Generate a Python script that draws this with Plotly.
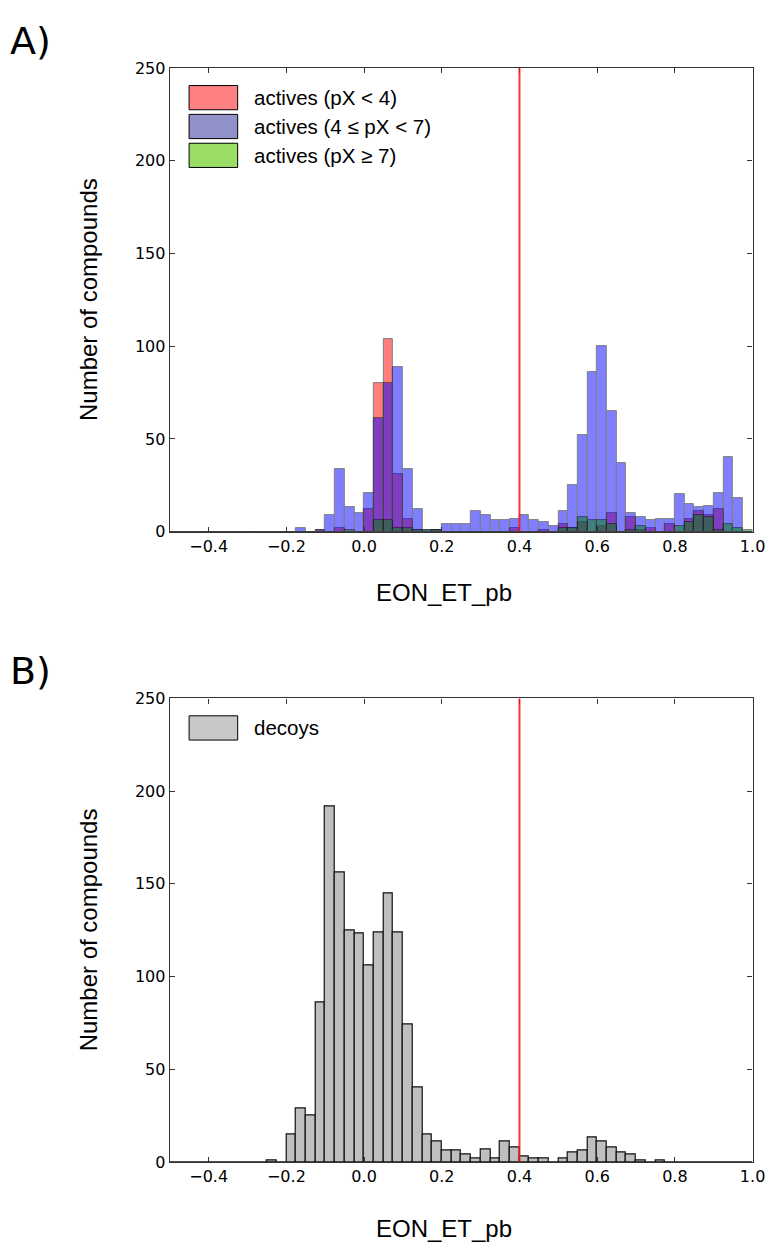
import plotly.graph_objects as go

# histogram bins: 60 bins of width 0.025 from -0.5 to 1.0
bin_width = 0.025
bin_centers = [round(-0.5 + bin_width * (i + 0.5), 4) for i in range(60)]

# counts per bin
actives_low = [0, 0, 0, 0, 0, 0, 0, 0, 0, 0, 0, 0, 0, 0, 0, 1, 0, 2, 0, 0,
               12, 80, 104, 31, 7, 1, 0, 1, 0, 0, 0, 0, 0, 0, 0, 2, 0, 0, 1, 0,
               4, 2, 5, 0, 3, 10, 0, 8, 1, 2, 0, 4, 0, 7, 11, 9, 12, 0, 0, 0]
actives_mid = [0, 0, 0, 0, 0, 0, 0, 0, 0, 0, 0, 0, 0, 2, 0, 1, 9, 34, 13, 10,
               21, 61, 80, 89, 34, 12, 1, 1, 4, 4, 4, 11, 9, 6, 6, 7, 9, 6, 5, 3,
               11, 25, 52, 86, 100, 65, 37, 10, 8, 6, 7, 7, 20, 15, 13, 14, 21, 40, 18, 0]
actives_high = [0, 0, 0, 0, 0, 0, 0, 0, 0, 0, 0, 0, 0, 0, 0, 0, 0, 0, 1, 0,
                0, 6, 6, 2, 2, 1, 1, 1, 0, 0, 0, 0, 0, 0, 0, 0, 0, 0, 0, 0,
                2, 2, 8, 6, 6, 4, 0, 1, 3, 0, 0, 0, 3, 5, 9, 8, 1, 4, 2, 1]
decoys = [0, 0, 0, 0, 0, 0, 0, 0, 0, 0, 1, 0, 15, 29, 25, 86, 192, 156, 125, 123,
          106, 124, 145, 124, 74, 40, 15, 11, 6, 6, 4, 2, 7, 2, 11, 8, 3, 2, 2, 0,
          2, 5, 6, 13, 11, 8, 5, 4, 1, 0, 1, 0, 0, 0, 0, 0, 0, 0, 0, 0]

active_labels = ['actives (pX < 4)', 'actives (4 ≤ pX < 7)', 'actives (pX ≥ 7)']
decoy_label = 'decoys'
x_ticks = [-0.4, -0.2, 0.0, 0.2, 0.4, 0.6, 0.8, 1.0]
y_ticks = [0, 50, 100, 150, 200, 250]
threshold = 0.4

W, H = 782, 1254
def px(x): return x / W
def py(y): return 1 - y / H

fig = go.Figure()
bar_colors = ['#ff0000', '#0000ff', '#008000']
for vals, col, name in zip([actives_low, actives_mid, actives_high], bar_colors, active_labels):
    fig.add_trace(go.Bar(x=bin_centers, y=vals, width=bin_width, name=name, opacity=0.5,
                         marker=dict(color=col, line=dict(color='black', width=1)),
                         showlegend=False, xaxis='x', yaxis='y'))
fig.add_trace(go.Bar(x=bin_centers, y=decoys, width=bin_width, name=decoy_label,
                     marker=dict(color='#bfbfbf', line=dict(color='#111111', width=1.2)),
                     showlegend=False, xaxis='x2', yaxis='y2'))

axis_style = dict(showline=True, linecolor='#333333', linewidth=1.3, mirror='allticks',
                  ticks='inside', ticklen=5, tickcolor='#333333', showgrid=False, zeroline=False,
                  tickfont=dict(family='DejaVu Sans', size=16, color='black'))
fig.update_layout(
    width=W, height=H, margin=dict(l=0, r=0, t=0, b=0), autosize=False,
    plot_bgcolor='white', paper_bgcolor='white', barmode='overlay', bargap=0,
    xaxis=dict(domain=[px(172.7), px(765.3)], range=[-0.5, 1.0], tickvals=x_ticks,
               tickformat='.1f', anchor='y', **axis_style),
    yaxis=dict(domain=[py(530.7), py(60)], range=[0, 250], tickvals=y_ticks, anchor='x', **axis_style),
    xaxis2=dict(domain=[px(172.7), px(765.3)], range=[-0.5, 1.0], tickvals=x_ticks,
                tickformat='.1f', anchor='y2', **axis_style),
    yaxis2=dict(domain=[py(1170.7), py(700)], range=[0, 250], tickvals=y_ticks, anchor='x2', **axis_style),
)

# threshold lines
for xr, yr in [('x', 'y domain'), ('x2', 'y2 domain')]:
    fig.add_shape(type='line', xref=xr, yref=yr, x0=threshold, x1=threshold, y0=0, y1=1,
                  line=dict(color='rgba(255,20,20,0.85)', width=2))

# hand-drawn legends (matplotlib style patches)
legend_cols = ['#ff8080', '#9191c9', '#99dd66']
for k, (lab, col) in enumerate(zip(active_labels, legend_cols)):
    top = 77.7 + k * 29.3
    fig.add_shape(type='rect', xref='paper', yref='paper', x0=px(192.3), x1=px(241.7),
                  y0=py(top + 24.6), y1=py(top), fillcolor=col, line=dict(color='black', width=1))
    fig.add_annotation(text=lab, xref='paper', yref='paper', x=px(256), y=py(top + 12.5),
                       xanchor='left', yanchor='middle', showarrow=False,
                       font=dict(family='Liberation Sans', size=20.5, color='black'))
fig.add_shape(type='rect', xref='paper', yref='paper', x0=px(192.3), x1=px(241.7),
              y0=py(742.3), y1=py(717.7), fillcolor='#c8c8c8', line=dict(color='black', width=1))
fig.add_annotation(text=decoy_label, xref='paper', yref='paper', x=px(256), y=py(730),
                   xanchor='left', yanchor='middle', showarrow=False,
                   font=dict(family='Liberation Sans', size=20.5, color='black'))

# axis titles and panel letters
for yc, xlab_y, letter, ly in [(295, 592, 'A)', 32), (935, 1238, 'B)', 672)]:
    fig.add_annotation(text='Number of compounds', xref='paper', yref='paper', x=px(90), y=py(yc),
                       textangle=-90, showarrow=False, xanchor='center', yanchor='middle',
                       font=dict(family='Liberation Sans', size=24, color='black'))
    fig.add_annotation(text='EON_ET_pb', xref='paper', yref='paper', x=px(451), y=py(xlab_y),
                       showarrow=False, xanchor='center', yanchor='middle',
                       font=dict(family='Liberation Sans', size=24, color='black'))
    fig.add_annotation(text=letter, xref='paper', yref='paper', x=px(8), y=py(ly),
                       showarrow=False, xanchor='left', yanchor='middle',
                       font=dict(family='DejaVu Sans', size=38, color='black'))

page_css = ("document.documentElement.style.margin='0';document.documentElement.style.overflow='hidden';"
            "document.body.style.margin='0';document.body.style.overflow='hidden';")
fig.write_html("out.html", config={'displayModeBar': False, 'responsive': False}, post_script=page_css)
